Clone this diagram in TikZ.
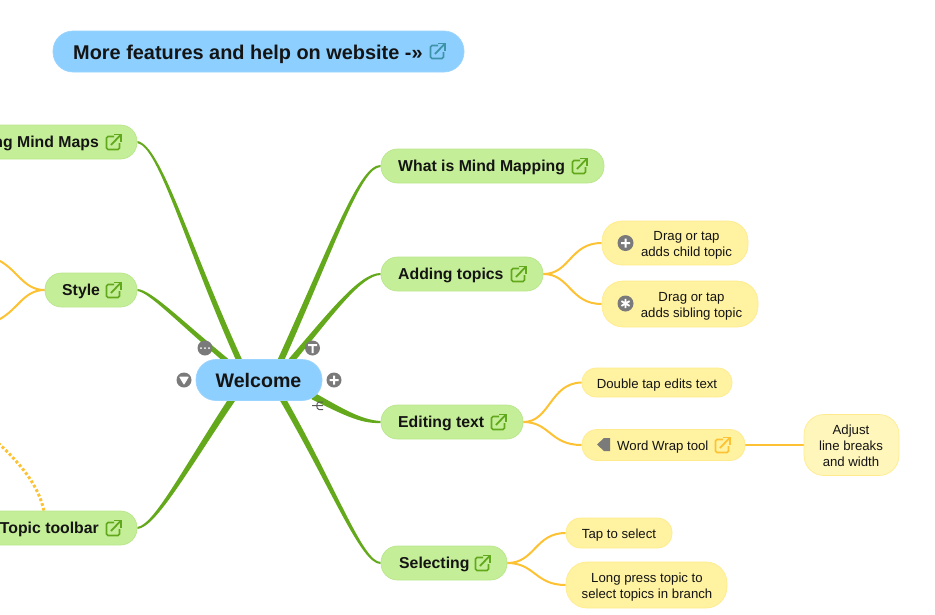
\documentclass[tikz,border=0pt]{standalone}
\usepackage{fontspec}
\setmainfont{Liberation Sans}
\usetikzlibrary{backgrounds,calc}
\definecolor{bluefill}{HTML}{8DCFFF}
\definecolor{bluedge}{HTML}{9AD4FF}
\definecolor{greenfill}{HTML}{C5EE98}
\definecolor{greenedge}{HTML}{B9E68C}
\definecolor{yellowfill}{HTML}{FFF2A0}
\definecolor{yellowedge}{HTML}{FFEB8E}
\definecolor{paleyellow}{HTML}{FFF6BC}
\definecolor{branch}{HTML}{63A91B}
\definecolor{twig}{HTML}{FDC233}
\definecolor{iconblue}{HTML}{3E93A8}
\definecolor{icongreen}{HTML}{62A81C}
\definecolor{btn}{HTML}{7A7A7A}
\definecolor{ink}{HTML}{141414}
\newcommand{\taper}[6]{\fill[branch] ($(#1)+(#6)$) .. controls ($(#2)+1.2*(#6)+0.3*(#5)$) and ($(#3)+0.75*(#5)$) .. ($(#4)+(#5)$) -- ($(#4)-(#5)$) .. controls ($(#3)-0.75*(#5)$) and ($(#2)-1.2*(#6)-0.3*(#5)$) .. ($(#1)-(#6)$) -- cycle;}
\tikzset{
  x=1pt,y=-1pt,
  box/.style={draw,line width=0.7pt,rounded corners=#1,inner sep=0pt},
  bluebox/.style={box=20pt,draw=bluedge,fill=bluefill},
  greenbox/.style={box=16.5pt,draw=greenedge,fill=greenfill,minimum height=34pt},
  yellowbox/.style={box=#1,draw=yellowedge,fill=yellowfill},
  bigtext/.style={inner sep=0pt,text=ink,font=\bfseries\fontsize{19.9}{24}\selectfont},
  greentext/.style={inner sep=0pt,anchor=base west,text=ink,font=\bfseries\fontsize{15.8}{19}\selectfont},
  smalltext/.style={inner sep=0pt,text=ink,align=center,font=\fontsize{13.2}{16}\selectfont},
  twigline/.style={draw=twig,line width=2pt},
  btnnode/.style={circle,fill=btn,minimum size=#1,inner sep=0pt},
  btnnode/.default=15pt,
  pics/ext/.style={code={
    \draw[#1,line width=1.6pt,rounded corners=1.5pt] (1,-5.5) -- (-6.5,-5.5) -- (-6.5,7.5) -- (6.5,7.5) -- (6.5,1);
    \draw[#1,line width=1.8pt] (-2,3) -- (7.5,-7);
    \draw[#1,line width=1.7pt] (1,-7.5) -- (8,-7.5) -- (8,-0.5);
  }},
}
\begin{document}
\begin{tikzpicture}
\useasboundingbox (0,0) rectangle (935,614);
\clip (0,0) rectangle (935,614);
% topic nodes
\node[bluebox,minimum width=411pt,minimum height=41pt] (more) at (258.5,51.5) {};
\node[bigtext,anchor=base west] (moreT) at (73,59) {More features and help on website -»};
\pic at (437,51) {ext=iconblue};
\node[greenbox,minimum width=197pt] (using) at (38.5,142) {};
\node[greentext,anchor=base east] (usingT) at (99,147) {Using Mind Maps};
\pic at (113,142) {ext=icongreen};
\node[greenbox,minimum width=92pt] (style) at (91,290) {};
\node[greentext] (styleT) at (62,295) {Style};
\pic at (113,290) {ext=icongreen};
\node[greenbox,minimum width=197pt] (tool) at (38.5,528) {};
\node[greentext,anchor=base east] (toolT) at (99,533) {Topic toolbar};
\pic at (113,528) {ext=icongreen};
\node[greenbox,minimum width=223pt] (what) at (492.5,166) {};
\node[greentext] (whatT) at (398,171) {What is Mind Mapping};
\pic at (579,166) {ext=icongreen};
\node[greenbox,minimum width=162pt] (add) at (462,274) {};
\node[greentext] (addT) at (398,279) {Adding topics};
\pic at (518,274) {ext=icongreen};
\node[greenbox,minimum width=142pt] (edit) at (452,422) {};
\node[greentext] (editT) at (398,427) {Editing text};
\pic at (498,422) {ext=icongreen};
\node[greenbox,minimum width=126pt] (sel) at (444,563) {};
\node[greentext] (selT) at (399,568) {Selecting};
\pic at (482,563) {ext=icongreen};
\node[bluebox,minimum width=126pt,minimum height=41pt] (welcome) at (259,380) {};
\node[bigtext,font=\bfseries\fontsize{19.6}{24}\selectfont] (welcomeT) at (258.5,380) {Welcome};
% yellow nodes
\node[yellowbox=20pt,minimum width=146pt,minimum height=44pt] (y1) at (675,243) {};
\node[smalltext] (y1T) at (686.5,245) {Drag or tap\\adds child topic};
\node[yellowbox=21pt,minimum width=156pt,minimum height=46pt] (y2) at (680,304) {};
\node[smalltext] (y2T) at (691.5,306) {Drag or tap\\adds sibling topic};
\node[yellowbox=14pt,minimum width=150pt,minimum height=29pt] (y3) at (657,382.5) {};
\node[smalltext,anchor=base] (y3T) at (657,388) {Double tap edits text};
\node[yellowbox=15pt,minimum width=163pt,minimum height=31pt] (y4) at (663.5,445) {};
\node[smalltext,anchor=base west] (y4T) at (617,450) {Word Wrap tool};
\pic at (722,445) {ext=twig};
\node[yellowbox=20pt,fill=paleyellow,minimum width=95pt,minimum height=61pt] (y5) at (851.5,445) {};
\node[smalltext] (y5T) at (851,446) {Adjust\\line breaks\\and width};
\node[yellowbox=14.5pt,minimum width=106pt,minimum height=30pt] (y6) at (619,533) {};
\node[smalltext,anchor=base] (y6T) at (619,538) {Tap to select};
\node[yellowbox=21pt,minimum width=161pt,minimum height=46pt] (y7) at (646.5,585) {};
\node[smalltext] (y7T) at (647,587) {Long press topic to\\select topics in branch};
% connectors behind the nodes
\begin{pgfonlayer}{background}
\taper{using.east}{160,146}{187,245}{240,362}{3.2,0}{0,-1}
\taper{style.east}{150,291}{178,320}{228,362}{4,0}{0,-1}
\taper{tool.east}{155,526}{185,470}{233,398}{4,0}{0,1}
\taper{what.west}{360,166}{335,240}{280,362}{3.5,0}{0,1}
\taper{add.west}{360,274}{330,315}{290,362}{4,0}{0,1}
\taper{edit.west}{360,422}{340,410}{313,396}{1.5,-3.2}{0,-1}
\taper{sel.west}{362,563}{335,490}{282,398}{3.5,0}{0,-1}
\draw[twigline] (add.east) .. controls (570,274) and (570,243) .. (y1.west);
\draw[twigline] (add.east) .. controls (570,274) and (570,304) .. (y2.west);
\draw[twigline] (edit.east) .. controls (550,422) and (550,383) .. (y3.west);
\draw[twigline] (edit.east) .. controls (550,422) and (550,445) .. (y4.west);
\draw[twigline] (y4.east) -- (y5.west);
\draw[twigline] (sel.east) .. controls (535,563) and (535,533) .. (y6.west);
\draw[twigline] (sel.east) .. controls (535,563) and (535,585) .. (y7.west);
\coordinate (off1) at (-6,258);
\coordinate (off2) at (-6,322);
\coordinate (off3) at (-4,441);
\draw[twigline] (style.west) .. controls (22,290) and (18,268) .. (off1);
\draw[twigline] (style.west) .. controls (22,290) and (18,312) .. (off2);
\draw[draw=twig,line width=3pt,dash pattern=on 2.8pt off 2.2pt] ($(tool.north)+(5.5,0)$) .. controls (38,485) and (22,465) .. (off3);
\end{pgfonlayer}
% control buttons
\node[btnnode] (b1) at (205,348) {};
\fill[white] (201,348) circle (1) (205,348) circle (1) (209,348) circle (1);
\node[btnnode] (b2) at (312.5,348) {};
\fill[white] (308,344) rectangle (317,346) (311.5,344) rectangle (313.5,353);
\node[btnnode] (b3) at (334,380) {};
\fill[white] (329.5,379) rectangle (338.5,381) (333,375.5) rectangle (335,384.5);
\node[btnnode] (b4) at (184,380) {};
\fill[white,rounded corners=0.8pt] (179,376.5) -- (189,376.5) -- (184,385) -- cycle;
\draw[black!65,line width=1pt] (312,405.5) -- (323,405.5) (323,402) -- (319,402) .. controls (316,402) and (316,409.5) .. (319,409.5) -- (323,409.5);
% icons inside the yellow topics
\node[btnnode=16pt] (p1) at (625.5,243) {};
\fill[white] (621,242) rectangle (630,244) (624.5,238.5) rectangle (626.5,247.5);
\node[btnnode=16pt] (p2) at (625.5,303.5) {};
\draw[white,line width=1.8pt] (625.5,298.8) -- (625.5,308.2) (621.4,301.1) -- (629.6,305.9) (621.4,305.9) -- (629.6,301.1);
\fill[btn] (597,444.5) -- (604,438) -- (610,438) -- (610,451) -- (604,451) -- cycle;
\end{tikzpicture}
\end{document}
